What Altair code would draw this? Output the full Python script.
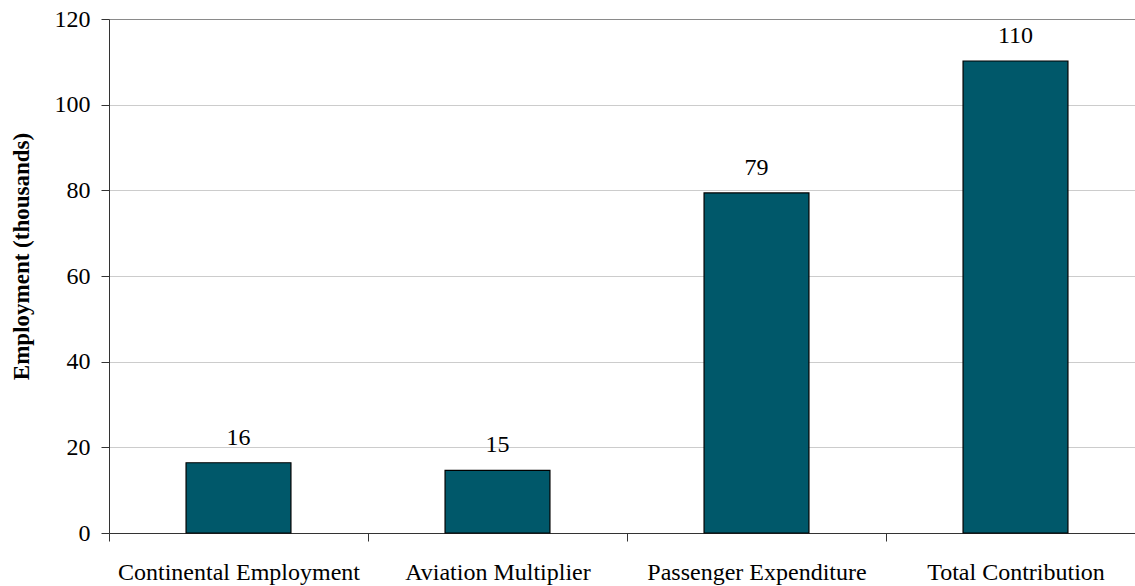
import altair as alt
import pandas as pd

# Employment contribution by component (thousands)
categories = ["Continental Employment", "Aviation Multiplier", "Passenger Expenditure", "Total Contribution"]
values = [16.4, 14.6, 79.4, 110.2]
y_ticks = [0, 20, 40, 60, 80, 100, 120]

df = pd.DataFrame({"category": categories, "value": values})

FONT = "Times New Roman, Liberation Serif, serif"
BAR_COLOR = "#00586A"

x_enc = alt.X(
    "category:N",
    sort=categories,
    scale=alt.Scale(paddingInner=0, paddingOuter=0, range=[0, 1036]),
    axis=alt.Axis(
        title=None,
        labelAngle=0,
        labelFont=FONT,
        labelFontSize=24,
        labelColor="black",
        labelBaseline="alphabetic",
        labelPadding=38,
        labelLimit=400,
        tickBand="extent",
        tickSize=8,
        tickColor="#333333",
        domainColor="#333333",
        grid=False,
    ),
)

y_enc = alt.Y(
    "value:Q",
    scale=alt.Scale(domain=[0, 120], nice=False),
    axis=alt.Axis(
        values=y_ticks,
        title="Employment (thousands)",
        titleFont=FONT,
        titleFontSize=23,
        titleFontWeight="bold",
        titleColor="black",
        titleAngle=270,
        titleAlign="center",
        titleBaseline="alphabetic",
        titleX=-81,
        titleY=237,
        titleLimit=400,
        labelFont=FONT,
        labelFontSize=24,
        labelColor="black",
        labelPadding=11,
        labelBaseline="middle",
        tickSize=8,
        tickColor="#333333",
        domainColor="#333333",
        grid=True,
        gridColor=alt.condition("datum.value == 120", alt.value("#8a8a8a"), alt.value("#cccccc")),
        gridWidth=1,
    ),
)

bars = alt.Chart(df).mark_bar(
    width=alt.RelativeBandSize(0.405),
    color=BAR_COLOR,
    stroke="black",
    strokeWidth=1.2,
).encode(x=x_enc, y=y_enc)

labels = alt.Chart(df).mark_text(
    font=FONT,
    fontSize=24,
    color="black",
    baseline="alphabetic",
    dy=-18,
).encode(
    x=alt.X("category:N", sort=categories),
    y=alt.Y("value:Q"),
    text=alt.Text("value:Q", format=".0f"),
)

chart = (
    alt.layer(bars, labels)
    .properties(
        width=1026,
        height=514,
        autosize=alt.AutoSizeParams(type="none"),
        padding={"left": 109, "top": 19, "right": 0, "bottom": 53},
        background="white",
    )
    .configure_view(stroke=None)
)

chart.save("out.html", embed_options={"renderer": "svg", "actions": False})
